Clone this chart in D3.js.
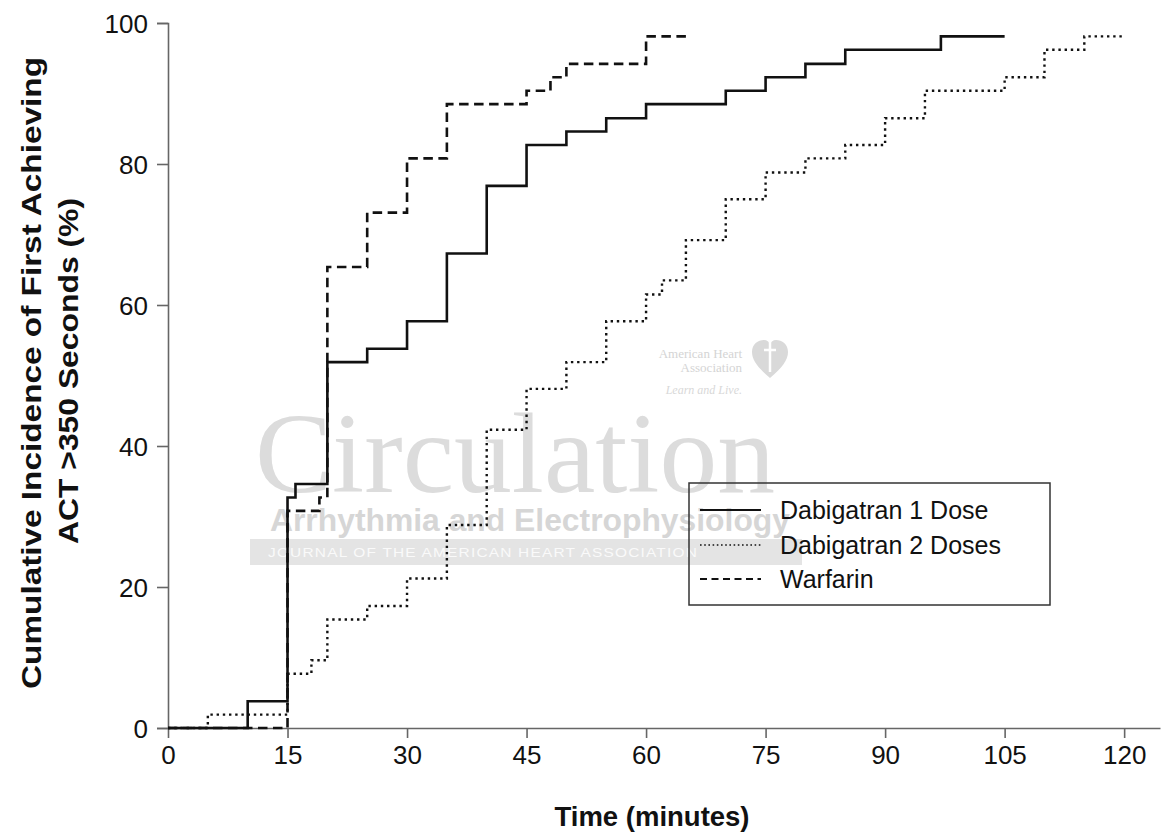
<!DOCTYPE html>
<html>
<head>
<meta charset="utf-8">
<script src="https://cdn.jsdelivr.net/npm/d3@7"></script>
<style>
  html, body { margin: 0; padding: 0; background: #fff; }
  svg { display: block; }
  text { font-family: "Liberation Sans", Arial, sans-serif; }
</style>
</head>
<body>
<svg id="chart" width="1175" height="837"></svg>
<script>
// ---- Data ----
const xTicks = [0, 15, 30, 45, 60, 75, 90, 105, 120];
const yTicks = [0, 20, 40, 60, 80, 100];

const seriesNames = ["Dabigatran 1 Dose", "Dabigatran 2 Doses", "Warfarin"];

const dabi1Times  = [0, 10, 15, 16, 20, 25, 30, 35, 40, 45, 50, 55, 60, 70, 75, 80, 85, 97, 105];
const dabi1Values = [0, 3.8, 32.7, 34.6, 51.9, 53.8, 57.7, 67.3, 76.9, 82.7, 84.6, 86.5, 88.5, 90.4, 92.3, 94.2, 96.2, 98.1, 98.1];

const dabi2Times  = [0, 5, 15, 18, 20, 25, 30, 35, 40, 45, 50, 55, 60, 62, 65, 70, 75, 80, 85, 90, 95, 105, 110, 115, 120];
const dabi2Values = [0, 1.9, 7.7, 9.6, 15.4, 17.3, 21.2, 28.8, 42.3, 48.1, 51.9, 57.7, 61.5, 63.5, 69.2, 75.0, 78.8, 80.8, 82.7, 86.5, 90.4, 92.3, 96.2, 98.1, 98.1];

const warfTimes  = [0, 15, 19, 20, 25, 30, 35, 45, 48, 50, 60, 65];
const warfValues = [0, 30.8, 32.7, 65.4, 73.1, 80.8, 88.5, 90.4, 92.3, 94.2, 98.1, 98.1];

// ---- Layout ----
const svg = d3.select("#chart");
const x = d3.scaleLinear().domain([0, 124.5]).range([168, 1160]);
const y = d3.scaleLinear().domain([0, 100]).range([728, 23]);

const styles = [
  { width: 2.6, dash: null },
  { width: 2.4, dash: "2.4,3.8" },
  { width: 2.6, dash: "9.5,5.5" }
];

// ---- Watermark (decorative, light gray) ----
const serif = "'Liberation Serif', 'Times New Roman', serif";
const wm = svg.append("g").attr("class", "watermark");
wm.append("text").attr("x", 255).attr("y", 492)
  .style("font-family", serif)
  .attr("font-size", 115).attr("fill", "#dcdcdc")
  .attr("textLength", 520).attr("lengthAdjust", "spacingAndGlyphs")
  .text("Circulation");
wm.append("text").attr("x", 270).attr("y", 531)
  .attr("font-size", 31).attr("font-weight", "bold").attr("fill", "#d6d6d6")
  .attr("textLength", 520).attr("lengthAdjust", "spacingAndGlyphs")
  .text("Arrhythmia and Electrophysiology");
wm.append("rect").attr("x", 250).attr("y", 539).attr("width", 552).attr("height", 26).attr("fill", "#e4e4e4");
wm.append("text").attr("x", 268).attr("y", 557)
  .attr("font-size", 13).attr("fill", "#fafafa").attr("letter-spacing", 1)
  .attr("textLength", 430).attr("lengthAdjust", "spacingAndGlyphs")
  .text("JOURNAL OF THE AMERICAN HEART ASSOCIATION");
wm.append("text").attr("x", 742).attr("y", 358).attr("text-anchor", "end")
  .style("font-family", serif).attr("font-size", 13).attr("fill", "#d4d4d4").text("American Heart");
wm.append("text").attr("x", 742).attr("y", 372).attr("text-anchor", "end")
  .style("font-family", serif).attr("font-size", 13).attr("fill", "#d4d4d4").text("Association");
wm.append("text").attr("x", 742).attr("y", 394).attr("text-anchor", "end")
  .style("font-family", serif).attr("font-style", "italic").attr("font-size", 12).attr("fill", "#d8d8d8").text("Learn and Live.");
wm.append("path")
  .attr("d", "M770,378 C758,368 752,360 752,352 C752,344 758,340 764,340 C767,340 769,342 770,344 C771,342 773,340 776,340 C782,340 788,344 788,352 C788,360 782,368 770,378 Z")
  .attr("fill", "#d9d9d9");
wm.append("path").attr("d", "M770,342 L770,372 M764,350 L776,350").attr("stroke", "#fff").attr("stroke-width", 2.5);

// ---- Axes ----
const xAxis = d3.axisBottom(x).tickValues(xTicks).tickSize(10).tickSizeOuter(0).tickPadding(8);
const yAxis = d3.axisLeft(y).tickValues(yTicks).tickSize(11).tickSizeOuter(11).tickPadding(9);

const gx = svg.append("g").attr("transform", "translate(0,728)").call(xAxis);
const gy = svg.append("g").attr("transform", "translate(168,0)").call(yAxis);
[gx, gy].forEach(g => {
  g.selectAll("path.domain").attr("stroke", "#666").attr("stroke-width", 1.6);
  g.selectAll(".tick line").attr("stroke", "#666").attr("stroke-width", 1.6);
  g.selectAll(".tick text").attr("font-size", 26).attr("fill", "#111")
    .style("font-family", "'Liberation Sans', Arial, sans-serif");
});
gy.selectAll(".tick text").attr("dy", "0.36em");

// Axis titles
svg.append("text").attr("x", 652).attr("y", 826).attr("text-anchor", "middle")
  .attr("font-size", 27.5).attr("font-weight", "bold").attr("fill", "#111")
  .text("Time (minutes)");
svg.append("text").attr("transform", "translate(41,373) rotate(-90)").attr("text-anchor", "middle")
  .attr("font-size", 28).attr("font-weight", "bold").attr("fill", "#111")
  .attr("textLength", 632).attr("lengthAdjust", "spacingAndGlyphs")
  .text("Cumulative Incidence of First Achieving");
svg.append("text").attr("transform", "translate(78,371) rotate(-90)").attr("text-anchor", "middle")
  .attr("font-size", 28).attr("font-weight", "bold").attr("fill", "#111")
  .attr("textLength", 346).attr("lengthAdjust", "spacingAndGlyphs")
  .text("ACT >350 Seconds (%)");

// ---- Step curves ----
const series = [
  { name: seriesNames[0], t: dabi1Times, v: dabi1Values },
  { name: seriesNames[1], t: dabi2Times, v: dabi2Values },
  { name: seriesNames[2], t: warfTimes, v: warfValues }
];
const line = d3.line().x(d => x(d[0])).y(d => y(d[1])).curve(d3.curveStepAfter);

// draw dotted first, then warfarin, then solid on top
[1, 2, 0].forEach(i => {
  const s = series[i];
  const pts = s.t.map((t, k) => [t, s.v[k]]);
  svg.append("path").datum(pts)
    .attr("d", line)
    .attr("fill", "none")
    .attr("stroke", "#111")
    .attr("stroke-width", styles[i].width)
    .attr("stroke-dasharray", styles[i].dash)
    .attr("stroke-linejoin", "miter");
});

// ---- Legend ----
const lg = svg.append("g");
lg.append("rect").attr("x", 689).attr("y", 483).attr("width", 361).attr("height", 122)
  .attr("fill", "none").attr("stroke", "#333").attr("stroke-width", 1.5);
const rowY = [510, 545, 579];
seriesNames.forEach((name, i) => {
  lg.append("line").attr("x1", 700).attr("x2", 761).attr("y1", rowY[i]).attr("y2", rowY[i])
    .attr("stroke", "#111").attr("stroke-width", i === 1 ? 1.6 : 2)
    .attr("stroke-dasharray", i === 0 ? null : (i === 1 ? "1.6,2.6" : "7,4.5"));
  lg.append("text").attr("x", 780).attr("y", rowY[i] + 9)
    .attr("font-size", 25).attr("fill", "#111").text(name);
});
</script>
</body>
</html>
